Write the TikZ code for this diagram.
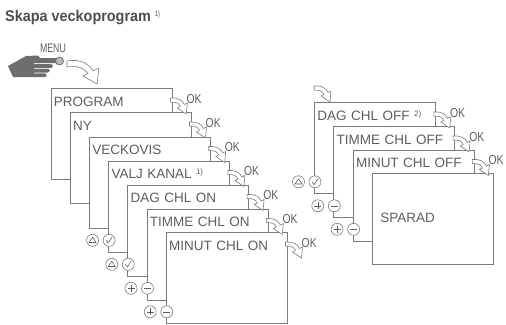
\documentclass[tikz,border=0pt]{standalone}
\usepackage{fontspec}
\setmainfont{Liberation Sans}
\newfontfamily\lcdfont{Liberation Sans}
\newfontfamily\okfont{Liberation Sans}[FakeStretch=0.8]
\newfontfamily\menufont{Liberation Sans}[FakeStretch=0.7]
\newfontfamily\titlefont{Liberation Sans}[FakeStretch=0.93]
\usetikzlibrary{calc}
\definecolor{boxgray}{HTML}{7A7A7A}
\definecolor{txtgray}{HTML}{5E5E5E}
\definecolor{handgray}{HTML}{6E6E6E}
\definecolor{titlegray}{HTML}{4D4D4D}
\tikzstyle{screen} = [draw=boxgray, line width=0.8pt, fill=white, anchor=north west, inner xsep=3pt, inner ysep=0pt, text width=115pt, text height=18pt, text depth=73pt, align=left, font=\lcdfont\fontsize{13.5}{14}\selectfont, text=txtgray]
\tikzstyle{oktext} = [font=\okfont\fontsize{13}{13}\selectfont, text=txtgray, inner sep=0pt, anchor=base west]
\tikzstyle{hollow} = [draw=boxgray, fill=white, line width=0.6pt, line join=round]
\tikzstyle{key} = [draw=boxgray, fill=white, line width=0.6pt]
\tikzstyle{keysym} = [draw=txtgray, line width=0.6pt, line join=round]
\newcommand{\fn}[1]{\raisebox{4pt}{\fontsize{8}{8}\selectfont #1}}
\tikzset{
  okarrow/.pic={\path[hollow] (-2,10) .. controls (6,9.5) and (10,12) .. (12,16.5) -- (15,15) -- (14,26) -- (5,20) -- (8,18.5) .. controls (6.5,15) and (4,14) .. (-2,14) -- cycle;},
  keyup/.pic={\draw[key] (0,0) circle (6pt); \draw[keysym] (-3.5,2.2) -- (3.5,2.2) -- (0,-3) -- cycle;},
  keyok/.pic={\draw[key] (0,0) circle (6pt); \draw[keysym] (-3,0) -- (-1,2.8) -- (3,-3.2);},
  keyplus/.pic={\draw[key] (0,0) circle (6pt); \draw[keysym] (-3.5,0) -- (3.5,0) (0,-3.5) -- (0,3.5);},
  keyminus/.pic={\draw[key] (0,0) circle (6pt); \draw[keysym] (-3.5,0) -- (3.5,0);}
}
\begin{document}
\begin{tikzpicture}[x=1pt,y=-1pt]
\useasboundingbox (0,0) rectangle (506,324);
% title and menu key
\node[anchor=base west, inner sep=0pt, text=titlegray, font=\titlefont\bfseries\fontsize{15.5}{16}\selectfont] (title) at (5,21) {Skapa veckoprogram \raisebox{5pt}{\menufont\mdseries\fontsize{8}{8}\selectfont 1)}};
\node[inner sep=0pt, text=txtgray, font=\menufont\fontsize{12.5}{13}\selectfont] (menu) at (53,48) {MENU};
% hand
\fill[handgray] (8,66) -- (26,56) -- (38,55.5) -- (40,58) -- (40,63.2) -- (34,63.2) -- (34,77) -- (13,77) -- cycle;
\fill[handgray, rounded corners=2pt] (36,58) rectangle (58,63.2);
\fill[handgray, rounded corners=1.8pt] (32,64) rectangle (53,68);
\fill[handgray, rounded corners=1.8pt] (32,68.8) rectangle (50,72.5);
\fill[handgray, rounded corners=1.8pt] (32,73.3) rectangle (47,77);
\filldraw[fill=gray!55, draw=handgray, line width=0.8pt] (59.5,61) circle (4pt);
\path[hollow] (67,61) .. controls (78,59) and (88,62) .. (93,71) -- (99,68) -- (97,84) -- (83,76) -- (88,73.5) .. controls (84,67.5) and (77,65.5) .. (67,67) -- cycle;
% left stack
\node[screen] (prog) at (50.5,88) {PROGRAM};
\node[screen] (ny) at (69.7,112) {NY};
\node[screen] (veckovis) at (88.9,136.5) {VECKOVIS};
\node[screen] (valj) at (108.1,160.5) {VALJ KANAL \fn{1)}};
\node[screen] (dagon) at (127.3,184.5) {DAG CHL ON};
\node[screen] (timmeon) at (146.5,208.5) {TIMME CHL ON};
\node[screen] (minuton) at (165.7,232) {MINUT CHL ON};
% right stack
\node[screen] (dagoff) at (314,102) {DAG CHL OFF \fn{2)}};
\node[screen] (timmeoff) at (333.3,126) {TIMME CHL OFF};
\node[screen] (minutoff) at (352.6,149.5) {MINUT CHL OFF};
\node[screen, inner xsep=8pt, text width=105pt, text height=49pt, text depth=42pt] (sparad) at (372,173) {SPARAD};
% ok arrows
\pic at (prog.north east) {okarrow};
\pic at (ny.north east) {okarrow};
\pic at (veckovis.north east) {okarrow};
\pic at (valj.north east) {okarrow};
\pic at (dagon.north east) {okarrow};
\pic at (timmeon.north east) {okarrow};
\pic at (minuton.north east) {okarrow};
\pic at ($(dagoff.north west)+(2,-26)$) {okarrow};
\pic at (dagoff.north east) {okarrow};
\pic at (timmeoff.north east) {okarrow};
\pic at (minutoff.north east) {okarrow};
\node[oktext] (okprog) at ($(prog.north east)+(14,15)$) {OK};
\node[oktext] (okny) at ($(ny.north east)+(14,15)$) {OK};
\node[oktext] (okveckovis) at ($(veckovis.north east)+(14,15)$) {OK};
\node[oktext] (okvalj) at ($(valj.north east)+(14,15)$) {OK};
\node[oktext] (okdagon) at ($(dagon.north east)+(14,15)$) {OK};
\node[oktext] (oktimmeon) at ($(timmeon.north east)+(14,15)$) {OK};
\node[oktext] (okminuton) at ($(minuton.north east)+(14,15)$) {OK};
\node[oktext] (okdagoff) at ($(dagoff.north east)+(14,15)$) {OK};
\node[oktext] (oktimmeoff) at ($(timmeoff.north east)+(14,15)$) {OK};
\node[oktext] (okminutoff) at ($(minutoff.north east)+(14,15)$) {OK};
% keys
\pic at ($(valj.south west)+(-15.5,-12)$) {keyup};
\pic at ($(valj.south west)+(1,-12)$) {keyok};
\pic at ($(dagon.south west)+(-15.5,-12)$) {keyup};
\pic at ($(dagon.south west)+(1,-12)$) {keyok};
\pic at ($(timmeon.south west)+(-15.5,-12)$) {keyplus};
\pic at ($(timmeon.south west)+(1,-12)$) {keyminus};
\pic at ($(minuton.south west)+(-15.5,-12)$) {keyplus};
\pic at ($(minuton.south west)+(1,-12)$) {keyminus};
\pic at ($(dagoff.south west)+(-15.5,-12)$) {keyup};
\pic at ($(dagoff.south west)+(1,-12)$) {keyok};
\pic at ($(timmeoff.south west)+(-15.5,-12)$) {keyplus};
\pic at ($(timmeoff.south west)+(1,-12)$) {keyminus};
\pic at ($(minutoff.south west)+(-15.5,-12)$) {keyplus};
\pic at ($(minutoff.south west)+(1,-12)$) {keyminus};
\end{tikzpicture}
\end{document}
